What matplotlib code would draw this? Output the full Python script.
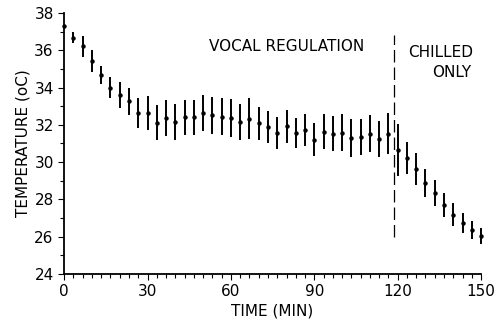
import numpy as np
import matplotlib
matplotlib.use("Agg")
import matplotlib.pyplot as plt
from matplotlib.ticker import MultipleLocator

# samples every 200 s (10/3 min)
time_min = np.arange(0, 46) * 10 / 3
temp_mean = [37.3,
             36.68, 36.20, 35.41, 34.68, 34.00, 33.60, 33.25, 32.63, 32.63, 32.12,
             32.36, 32.14, 32.40, 32.40, 32.63, 32.50, 32.43, 32.36, 32.16, 32.32,
             32.07, 31.88, 31.56, 31.91, 31.54, 31.73, 31.21, 31.63, 31.52, 31.57,
             31.29, 31.34, 31.52, 31.23, 31.52, 30.66, 30.22, 29.63, 28.88, 28.34,
             27.68, 27.18, 26.74, 26.34, 26.02]
temp_err = [0.0,
            0.30, 0.55, 0.60, 0.48, 0.55, 0.70, 0.75, 0.80, 0.90, 0.95,
            0.95, 0.95, 0.95, 0.95, 0.98, 1.00, 1.00, 1.00, 0.95, 1.10,
            0.90, 0.85, 0.85, 0.90, 0.80, 0.85, 0.90, 0.95, 0.95, 1.00,
            1.00, 0.95, 1.00, 0.95, 1.10, 1.40, 0.87, 0.85, 0.75, 0.70,
            0.64, 0.60, 0.52, 0.49, 0.43]

switch_time = 118.5
switch_span = (26.0, 36.8)

plt.rcParams['font.family'] = ['DejaVu Sans']

fig = plt.figure(figsize=(4.97, 3.32), dpi=100)
ax = fig.add_axes([0.129, 0.175, 0.839, 0.786])

ax.errorbar(time_min, temp_mean, yerr=temp_err, fmt='o', color='black',
            ms=2.2, elinewidth=1.4, capsize=0, clip_on=False, zorder=3)

ax.plot([switch_time, switch_time], switch_span, color='black', lw=0.9,
        dashes=(10, 4))

ax.text(80, 36.2, "VOCAL REGULATION", ha='center', va='center', fontsize=11)
ax.text(135.5, 35.9, "CHILLED", ha='center', va='center', fontsize=11)
ax.text(139.5, 34.8, "ONLY", ha='center', va='center', fontsize=11)

ax.set_xlim(0, 150)
ax.set_ylim(24, 38)
ax.xaxis.set_major_locator(MultipleLocator(30))
ax.xaxis.set_minor_locator(MultipleLocator(10 / 3))
ax.yaxis.set_major_locator(MultipleLocator(2))
ax.yaxis.set_minor_locator(MultipleLocator(1))
ax.tick_params(axis='both', which='both', direction='out', width=0.8,
               labelsize=11, color='black')
ax.tick_params(axis='both', which='major', length=4)
ax.tick_params(axis='both', which='minor', length=3)

for side in ['top', 'right']:
    ax.spines[side].set_visible(False)
ax.spines['left'].set_linewidth(1.3)
ax.spines['bottom'].set_linewidth(1.3)

ax.set_xlabel("TIME (MIN)", fontsize=11, labelpad=3)
ax.set_ylabel("TEMPERATURE (oC)", fontsize=11, labelpad=3)

fig.savefig("out.png", dpi=100)
